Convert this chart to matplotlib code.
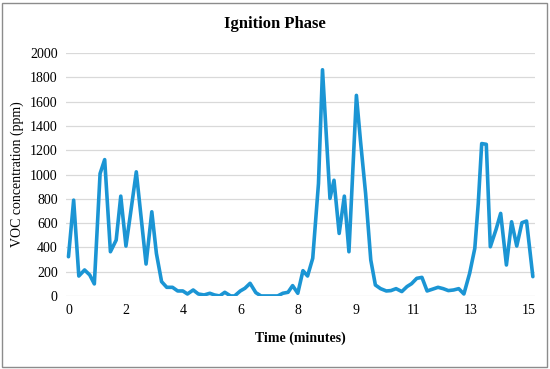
import matplotlib
matplotlib.use("Agg")
import matplotlib.pyplot as plt
from matplotlib.patches import Rectangle

# x position on the category axis (label-index units), VOC concentration (ppm)
x_pos = [0.00, 0.09, 0.18, 0.28, 0.37, 0.45, 0.55, 0.63, 0.73, 0.83, 0.91, 1.00,
         1.08, 1.18, 1.35, 1.45, 1.53, 1.62, 1.71, 1.81, 1.90, 1.99, 2.07, 2.17,
         2.26, 2.36, 2.46, 2.54, 2.63, 2.72, 2.82, 2.89, 2.99, 3.07, 3.16, 3.26,
         3.35, 3.49, 3.64, 3.73, 3.82, 3.90, 3.99, 4.08, 4.16, 4.25, 4.35, 4.42,
         4.55, 4.62, 4.71, 4.80, 4.88, 5.01, 5.08, 5.17, 5.26, 5.34, 5.43, 5.53,
         5.61, 5.70, 5.80, 5.89, 5.97, 6.06, 6.15, 6.24, 6.33, 6.43, 6.52, 6.61,
         6.70, 6.79, 6.88, 6.98, 7.07, 7.13, 7.19, 7.27, 7.34, 7.44, 7.52, 7.62,
         7.71, 7.80, 7.89, 7.97, 8.08]
voc = [323, 789, 164, 214, 173, 99, 1008, 1123, 364, 460, 822, 411,
       680, 1022, 263, 693, 350, 118, 71, 71, 41, 41, 16, 49,
       16, 8, 22, 8, 0, 30, 0, 0, 41, 63, 104, 27,
       0, 0, 0, 22, 30, 85, 22, 208, 164, 310, 926, 1863,
       803, 953, 515, 822, 364, 1652, 1282, 844, 296, 90, 60, 41,
       44, 60, 36, 77, 101, 145, 153, 41, 55, 71, 60, 44,
       49, 60, 16, 186, 392, 762, 1255, 1249, 405, 548, 680, 255,
       611, 411, 603, 617, 159]

tick_labels = ['0', '2', '4', '6', '8', '9', '11', '13', '15']
y_ticks = [0, 200, 400, 600, 800, 1000, 1200, 1400, 1600, 1800, 2000]

plt.rcParams['font.family'] = ['Liberation Serif', 'DejaVu Serif']

fig = plt.figure(figsize=(5.5, 3.69), dpi=100)
ax = fig.add_axes([0.12, 0.198, 0.853, 0.658])

ax.plot(x_pos, voc, color='#1b95d4', linewidth=2.6, solid_joinstyle='round',
        solid_capstyle='round')

ax.set_xlim(-0.043, 8.12)
ax.set_ylim(0, 2000)
ax.set_yticks(y_ticks)
ax.set_xticks(range(len(tick_labels)))
ax.set_xticklabels(tick_labels)
ax.tick_params(axis='both', length=0, labelsize=10, colors='black')
ax.tick_params(axis='x', pad=6)
ax.tick_params(axis='y', pad=6)
ax.grid(axis='y', color='#d9d9d9', linewidth=0.9)
ax.set_axisbelow(True)
for s in ax.spines.values():
    s.set_visible(False)

fig.text(0.5, 0.936, 'Ignition Phase', fontsize=12, fontweight='bold',
         ha='center', va='center')
ax.set_xlabel('Time (minutes)', fontsize=10, fontweight='bold', labelpad=10)
ax.set_ylabel('VOC concentration (ppm)', fontsize=10)

fig.patches.append(Rectangle((0.004, 0.005), 0.99, 0.988, transform=fig.transFigure,
                             fill=False, edgecolor='#8c8c8c', linewidth=1))

fig.savefig('out.png', dpi=100)
